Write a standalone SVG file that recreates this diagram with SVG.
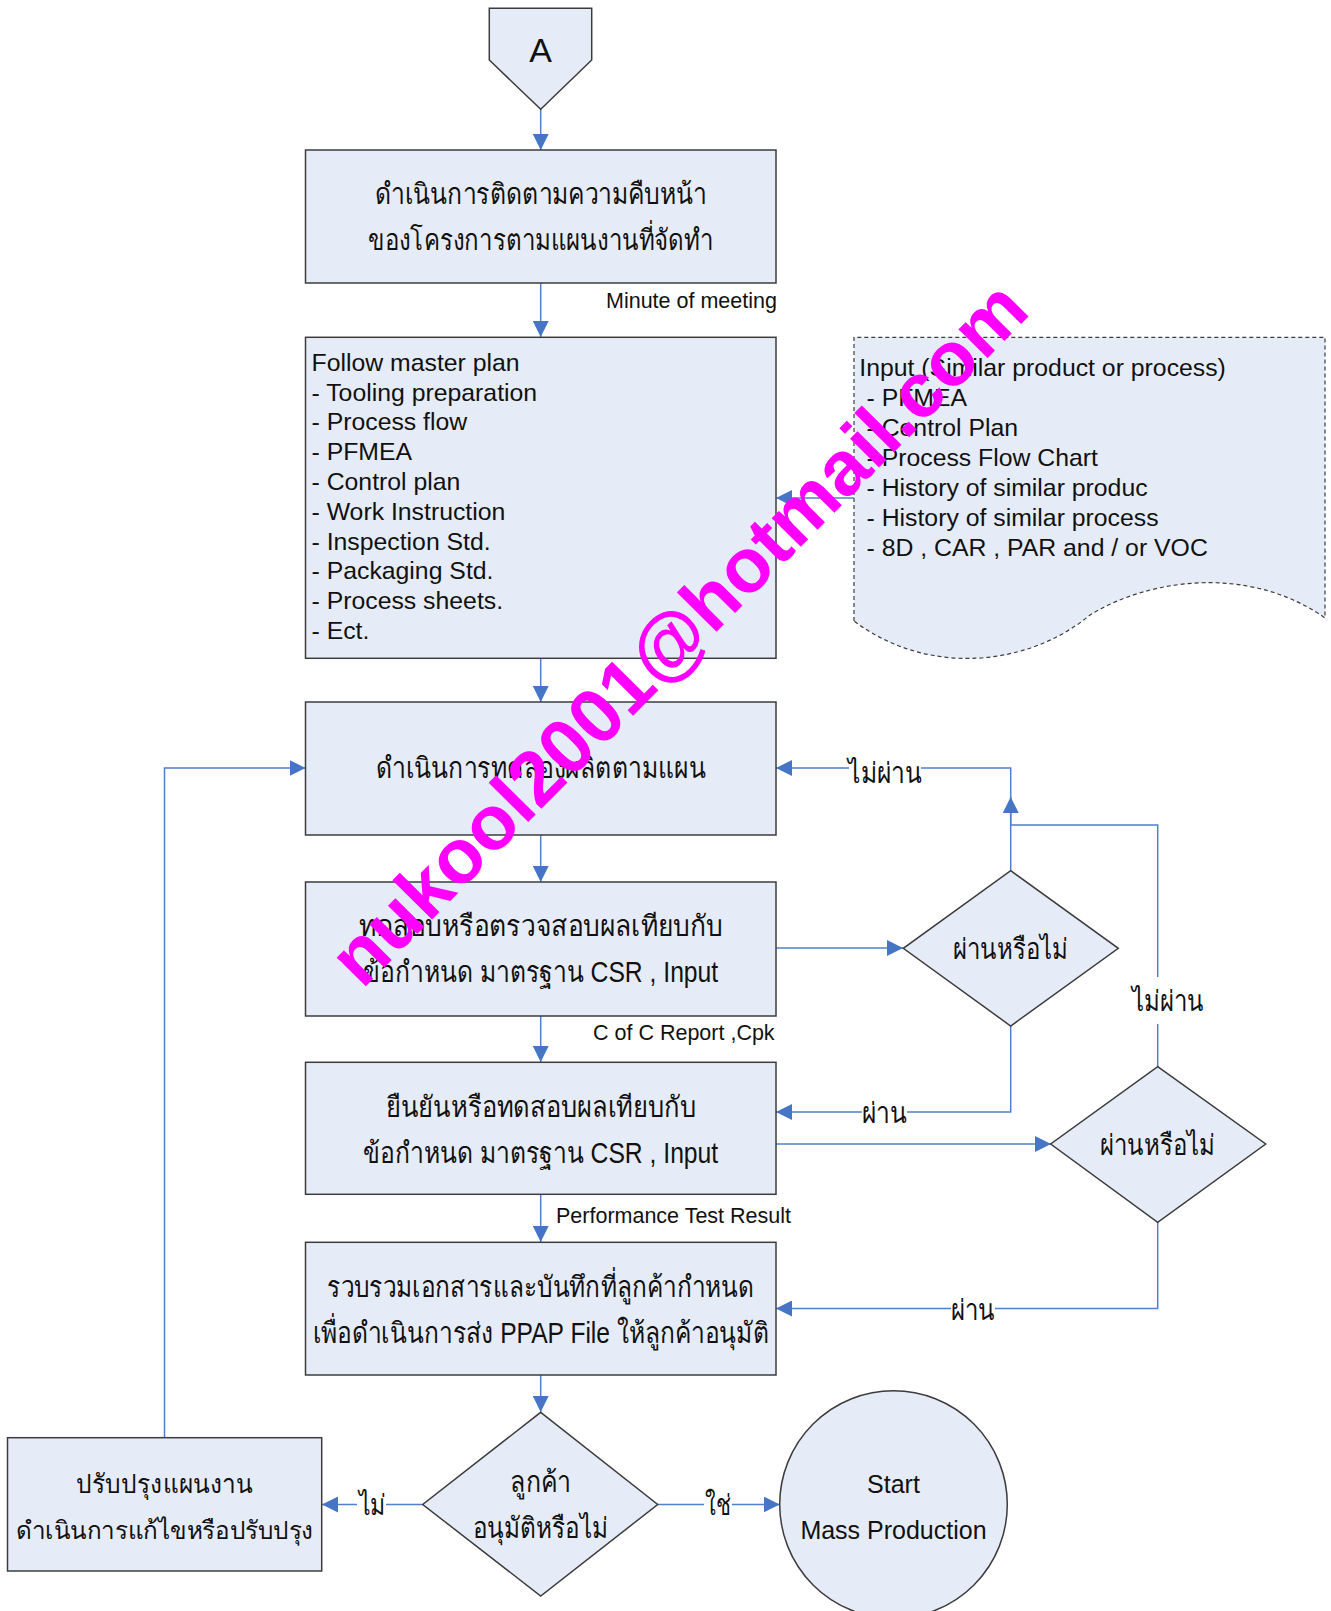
<svg xmlns="http://www.w3.org/2000/svg" width="1331" height="1611" viewBox="0 0 1331 1611">
<defs>
<marker id="ah" markerWidth="16" markerHeight="16" refX="16" refY="8" orient="auto" markerUnits="userSpaceOnUse"><path d="M0,0 L16,8 L0,16 z" fill="#4575C4"/></marker>
<style>
.box{fill:#E6ECF7;stroke:#3C3C3C;stroke-width:1.5}
.ln{fill:none;stroke:#4F80C8;stroke-width:1.5}
.arr{marker-end:url(#ah)}
.t{font-family:"Liberation Sans","Noto Sans",sans-serif;fill:#111}
.th{font-family:"Liberation Sans","Noto Sans",sans-serif;fill:#111;font-size:29px;text-anchor:middle}
.lst{font-size:24.8px}
.lbl{font-size:21.5px}
.bg{fill:#fff}
</style>
</defs>
<rect width="1331" height="1611" fill="#fff"/>
<g id="connectors">
<path class="ln arr" d="M540.7,109 V150"/>
<path class="ln arr" d="M540.7,283 V337"/>
<path class="ln arr" d="M540.7,658 V702"/>
<path class="ln arr" d="M540.7,835 V882"/>
<path class="ln arr" d="M540.7,1016 V1062"/>
<path class="ln arr" d="M540.7,1195 V1242"/>
<path class="ln arr" d="M540.7,1375 V1412"/>
<path class="ln arr" d="M854,498 H776"/>
<path class="ln arr" d="M776,948 H903"/>
<path class="ln arr" d="M1010.7,871 V768 H776"/>
<path class="ln arr" d="M1157.7,1067 V825 H1010.7 V797"/>
<path class="ln arr" d="M1010.7,1026 V1112 H776"/>
<path class="ln arr" d="M776,1144 H1051"/>
<path class="ln arr" d="M1157.7,1222 V1308.5 H776"/>
<path class="ln arr" d="M422.7,1504.5 H322"/>
<path class="ln arr" d="M657.7,1504.5 H779.7"/>
<path class="ln arr" d="M164.5,1438 V768 H305.5"/>
<rect class="bg" x="849" y="760" width="72" height="30"/>
<rect class="bg" x="1130" y="977" width="76" height="47"/>
<rect class="bg" x="862" y="1100" width="45" height="30"/>
<rect class="bg" x="951" y="1296" width="44" height="30"/>
<rect class="bg" x="357" y="1492" width="29" height="30"/>
<rect class="bg" x="704" y="1492" width="28" height="30"/>
<text class="th" x="885" y="783" textLength="74" lengthAdjust="spacingAndGlyphs">ไม่ผ่าน</text>
<text class="th" x="1168" y="1011" textLength="72" lengthAdjust="spacingAndGlyphs">ไม่ผ่าน</text>
<text class="th" x="884" y="1123" textLength="45" lengthAdjust="spacingAndGlyphs">ผ่าน</text>
<text class="th" x="973" y="1320" textLength="44" lengthAdjust="spacingAndGlyphs">ผ่าน</text>
<text class="th" x="372" y="1515" textLength="27" lengthAdjust="spacingAndGlyphs">ไม่</text>
<text class="th" x="718" y="1515" textLength="26" lengthAdjust="spacingAndGlyphs">ใช่</text>
<text class="t lbl" x="606" y="308">Minute of meeting</text>
<text class="t lbl" x="593" y="1040">C of C Report ,Cpk</text>
<text class="t lbl" x="556" y="1223">Performance Test Result</text>
</g>
<g id="nodeA">
<path class="box" d="M489.3,8.3 H591.7 V60 L540.7,109.3 L489.3,60 Z"/>
<text class="t" x="540.7" y="62" font-size="34" text-anchor="middle">A</text>
</g>
<g id="box1">
<rect class="box" x="305.5" y="150" width="470.5" height="133"/>
<text class="th" x="540.7" y="204" textLength="332" lengthAdjust="spacingAndGlyphs">ดำเนินการติดตามความคืบหน้า</text>
<text class="th" x="540.7" y="250" textLength="345" lengthAdjust="spacingAndGlyphs">ของโครงการตามแผนงานที่จัดทำ</text>
</g>
<g id="box2">
<rect class="box" x="305.5" y="337.3" width="470.5" height="321"/>
<g class="t lst">
<text x="311.5" y="370.7">Follow master plan</text>
<text x="311.5" y="400.5">- Tooling preparation</text>
<text x="311.5" y="430.3">- Process flow</text>
<text x="311.5" y="460.1">- PFMEA</text>
<text x="311.5" y="489.9">- Control plan</text>
<text x="311.5" y="519.7">- Work Instruction</text>
<text x="311.5" y="549.5">- Inspection Std.</text>
<text x="311.5" y="579.3">- Packaging Std.</text>
<text x="311.5" y="609.1">- Process sheets.</text>
<text x="311.5" y="638.9">- Ect.</text>
</g>
</g>
<g id="input-doc">
<path d="M854,621 V337.3 H1325 V618 C1250,565 1150,578 1090,615 C1030,665 930,678 854,621 Z" fill="#E6ECF7" stroke="#3C3C3C" stroke-width="1.2" stroke-dasharray="4,3"/>
<g class="t lst">
<text x="859.3" y="376">Input (Similar product or process)</text>
<text x="866.5" y="406">- PFMEA</text>
<text x="866.5" y="436">- Control Plan</text>
<text x="866.5" y="466">- Process Flow Chart</text>
<text x="866.5" y="496">- History of similar produc</text>
<text x="866.5" y="526">- History of similar process</text>
<text x="866.5" y="556">- 8D , CAR , PAR and / or VOC</text>
</g>
</g>
<g id="box3">
<rect class="box" x="305.5" y="702" width="470.5" height="133"/>
<text class="th" x="540.7" y="778" textLength="330" lengthAdjust="spacingAndGlyphs">ดำเนินการทดลองผลิตตามแผน</text>
</g>
<g id="box4">
<rect class="box" x="305.5" y="882" width="470.5" height="134"/>
<text class="th" x="540.7" y="936" textLength="364" lengthAdjust="spacingAndGlyphs">ทดสอบหรือตรวจสอบผลเทียบกับ</text>
<text class="th" x="540.7" y="982" textLength="355" lengthAdjust="spacingAndGlyphs">ข้อกำหนด มาตรฐาน CSR , Input</text>
</g>
<g id="decision1">
<path class="box" d="M1010.7,870.7 L1118.3,948.3 L1010.7,1026 L903.3,948.3 Z"/>
<text class="th" x="1010.7" y="959" textLength="115" lengthAdjust="spacingAndGlyphs">ผ่านหรือไม่</text>
</g>
<g id="box5">
<rect class="box" x="305.5" y="1062.3" width="470.5" height="132"/>
<text class="th" x="540.7" y="1117" textLength="310" lengthAdjust="spacingAndGlyphs">ยืนยันหรือทดสอบผลเทียบกับ</text>
<text class="th" x="540.7" y="1163" textLength="355" lengthAdjust="spacingAndGlyphs">ข้อกำหนด มาตรฐาน CSR , Input</text>
</g>
<g id="decision2">
<path class="box" d="M1157.7,1066.7 L1265.7,1144 L1157.7,1222.3 L1050.7,1144 Z"/>
<text class="th" x="1157.7" y="1155" textLength="115" lengthAdjust="spacingAndGlyphs">ผ่านหรือไม่</text>
</g>
<g id="box6">
<rect class="box" x="305.5" y="1242.3" width="470.5" height="132.7"/>
<text class="th" x="540.7" y="1297" textLength="427" lengthAdjust="spacingAndGlyphs">รวบรวมเอกสารและบันทึกที่ลูกค้ากำหนด</text>
<text class="th" x="540.7" y="1343" textLength="456" lengthAdjust="spacingAndGlyphs">เพื่อดำเนินการส่ง PPAP File ให้ลูกค้าอนุมัติ</text>
</g>
<g id="decision3">
<path class="box" d="M540.7,1412.3 L657.7,1504.5 L540.7,1596 L422.7,1504.5 Z"/>
<text class="th" x="540.7" y="1492" textLength="61" lengthAdjust="spacingAndGlyphs">ลูกค้า</text>
<text class="th" x="540.7" y="1538" textLength="135" lengthAdjust="spacingAndGlyphs">อนุมัติหรือไม่</text>
</g>
<g id="box7">
<rect class="box" x="7.5" y="1437.7" width="314.2" height="133.3"/>
<text class="th" x="164.5" y="1493" font-size="26" style="font-size:26px" textLength="177" lengthAdjust="spacingAndGlyphs">ปรับปรุงแผนงาน</text>
<text class="th" x="164.5" y="1539" style="font-size:25px" textLength="297" lengthAdjust="spacingAndGlyphs">ดำเนินการแก้ไขหรือปรับปรุง</text>
</g>
<g id="start">
<circle class="box" cx="893.5" cy="1504.5" r="113.8"/>
<text class="t" x="893.5" y="1493" font-size="25" text-anchor="middle">Start</text>
<text class="t" x="893.5" y="1539" font-size="25" text-anchor="middle">Mass Production</text>
</g>
<g id="watermark">
<text x="0" y="0" transform="translate(362,990) rotate(-45.3)" font-family="'Liberation Sans',sans-serif" font-weight="bold" font-size="77" fill="#FF00FF">nukool2001@hotmail.com</text>
</g>
</svg>
